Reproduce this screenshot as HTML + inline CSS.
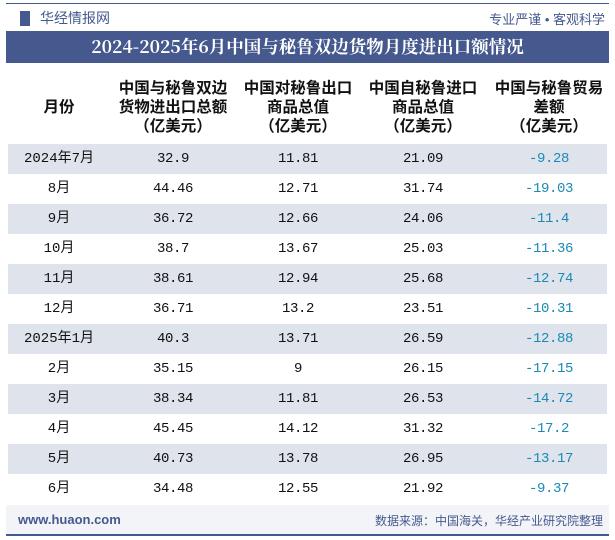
<!DOCTYPE html>
<html><head><meta charset="utf-8"><style>
body{margin:0;width:615px;height:540px;background:#fff;font-family:"Liberation Sans","Noto Sans CJK SC",sans-serif;position:relative;overflow:hidden}
.abs{position:absolute}
#topline{left:6px;top:3px;width:603px;height:1px;background:#44598f}
#botline{left:6px;top:534px;width:603px;height:2px;background:#44598f}
#brand{left:40px;top:8px;font-size:14px;color:#44598f}
#logo{left:20px;top:11px;width:10px;height:15px;background:#44598f}
#slogan{right:10px;top:9px;font-size:13px;color:#44598f}
#title{left:6px;top:31px;width:603px;height:32px;background:#46598e;color:#fff;font-family:"Noto Serif CJK SC",serif;font-weight:bold;font-size:17.5px;line-height:32px;text-align:center}
.hd{position:absolute;width:140px;text-align:center;font-family:"Noto Sans CJK SC",sans-serif;font-size:15.5px;font-weight:bold;line-height:19px;color:#111;white-space:nowrap}
.row{position:absolute;left:8px;width:599px;height:30px}
.row.s{background:#dfe3ec}
.cell{position:absolute;top:0;width:140px;height:30px;line-height:30px;text-align:center;font-family:"Liberation Mono",monospace;font-size:14px;letter-spacing:-0.4px;color:#111;white-space:nowrap}
.cell.m{font-family:"Liberation Mono","Noto Sans CJK SC",monospace;letter-spacing:0}
.cell.neg{color:#1b8ab5}
#footer{left:6px;top:505px;width:603px;height:29px;background:#f3f4f7}
#url{left:18px;top:512px;font-size:13px;color:#44598f;font-weight:bold}
#src{right:12px;top:512px;font-size:12px;color:#44598f}
</style></head><body>
<div class="abs" id="topline"></div>
<div class="abs" id="logo"></div>
<div class="abs" id="brand">华经情报网</div>
<div class="abs" id="slogan">专业严谨 • 客观科学</div>
<div class="abs" id="title">2024-2025年6月中国与秘鲁双边货物月度进出口额情况</div>
<div class="hd" style="left:-11px;top:97px">月份</div>
<div class="hd" style="left:103px;top:78px">中国与秘鲁双边<br>货物进出口总额<br>（亿美元）</div>
<div class="hd" style="left:228px;top:78px">中国对秘鲁出口<br>商品总值<br>（亿美元）</div>
<div class="hd" style="left:353px;top:78px">中国自秘鲁进口<br>商品总值<br>（亿美元）</div>
<div class="hd" style="left:479px;top:78px">中国与秘鲁贸易<br>差额<br>（亿美元）</div>
<div id="tb"></div>
<div class="abs" id="footer"></div>
<div class="abs" id="url">www.huaon.com</div>
<div class="abs" id="src">数据来源：中国海关，华经产业研究院整理</div>
<div class="abs" id="botline"></div>
<script>
const months=["2024年7月","8月","9月","10月","11月","12月","2025年1月","2月","3月","4月","5月","6月"];
const totals=["32.9","44.46","36.72","38.7","38.61","36.71","40.3","35.15","38.34","45.45","40.73","34.48"];
const exportsV=["11.81","12.71","12.66","13.67","12.94","13.2","13.71","9","11.81","14.12","13.78","12.55"];
const importsV=["21.09","31.74","24.06","25.03","25.68","23.51","26.59","26.15","26.53","31.32","26.95","21.92"];
const balances=["-9.28","-19.03","-11.4","-11.36","-12.74","-10.31","-12.88","-17.15","-14.72","-17.2","-13.17","-9.37"];
const centers=[59,173,298,423,549];
const tb=document.getElementById('tb');
months.forEach((m,i)=>{
  const row=document.createElement('div');
  
  
  row.className='row'+(i%2===0?' s':'');
  row.style.top=(144+i*30)+'px';
  [m,totals[i],exportsV[i],importsV[i],balances[i]].forEach((v,j)=>{
    const c=document.createElement('div');
    
    
    c.className='cell'+(j===0?' m':'')+(j===4?' neg':'');
    c.style.left=(centers[j]-8-70)+'px';
    c.textContent=v;
    row.appendChild(c);
  });
  tb.appendChild(row);
});
</script>
</body></html>
